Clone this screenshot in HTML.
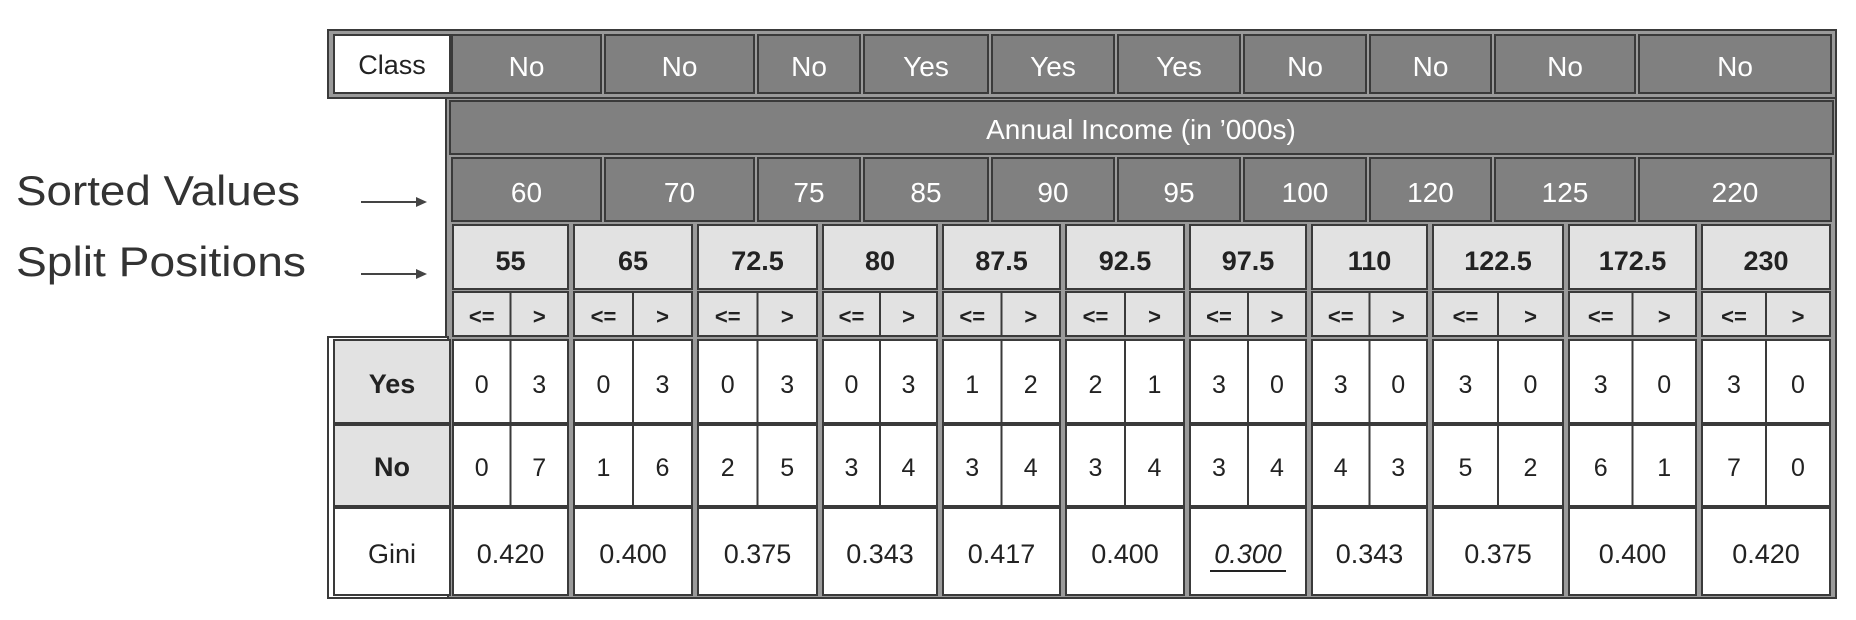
<!DOCTYPE html>
<html><head><meta charset="utf-8"><style>
html,body{margin:0;padding:0;background:#fff;width:1856px;height:620px;overflow:hidden}
svg{display:block;font-family:"Liberation Sans",Arial,sans-serif}
</style></head><body>
<svg id="tbl" width="1856" height="620" viewBox="0 0 1856 620">
<text x="16" y="205" font-size="42" fill="#333" textLength="284" lengthAdjust="spacingAndGlyphs">Sorted Values</text>
<text x="16" y="276" font-size="42" fill="#333" textLength="290" lengthAdjust="spacingAndGlyphs">Split Positions</text>
<g><line x1="361" y1="202" x2="418" y2="202" stroke="#444" stroke-width="2"/><polygon points="416,197 427,202 416,207" fill="#444"/></g>
<g><line x1="361" y1="274" x2="418" y2="274" stroke="#444" stroke-width="2"/><polygon points="416,269 427,274 416,279" fill="#444"/></g>
</svg>
<script>
const classes=["No","No","No","Yes","Yes","Yes","No","No","No","No"];
const values=[60,70,75,85,90,95,100,120,125,220];
const splits=["55","65","72.5","80","87.5","92.5","97.5","110","122.5","172.5","230"];
const yesLe=[0,0,0,0,1,2,3,3,3,3,3];
const yesGt=[3,3,3,3,2,1,0,0,0,0,0];
const noLe=[0,1,2,3,3,3,3,4,5,6,7];
const noGt=[7,6,5,4,4,4,4,3,2,1,0];
const gini=["0.420","0.400","0.375","0.343","0.417","0.400","0.300","0.343","0.375","0.400","0.420"];
// layout (pixel column edges)
const valEdges=[450,603,756,862,990,1116,1242,1368,1493,1637,1833];
const splitEdges=[450,571,695,820,940,1063,1187,1309,1430,1566,1699,1833];
const svg=document.getElementById('tbl');
const NS='http://www.w3.org/2000/svg';
function rect(x,y,w,h,fill,stroke,sw,name){const r=document.createElementNS(NS,'rect');
r.setAttribute('x',x);r.setAttribute('y',y);r.setAttribute('width',w);r.setAttribute('height',h);
r.setAttribute('fill',fill);r.setAttribute('stroke',stroke);r.setAttribute('stroke-width',sw);


svg.appendChild(r);return r;}
function text(x,y,s,size,fill,bold,name){const t=document.createElementNS(NS,'text');
t.setAttribute('x',x);t.setAttribute('y',y);t.setAttribute('font-size',size);t.setAttribute('fill',fill);
t.setAttribute('text-anchor','middle');if(bold)t.setAttribute('font-weight','bold');
t.textContent=s;


svg.appendChild(t);return t;}
const DARK='#808080',LIGHT='#e2e2e2',LINE='#3a3a3a';
rect(328,30,1508,68,'#9a9a9a',LINE,2,'class-row-frame');
rect(446,98,1390,500,'#9a9a9a',LINE,2,'body-frame');
rect(328,337,120,261,'#fff',LINE,2,'row-label-frame');
rect(334,35,116,58,'#fff',LINE,2,'class-header-cell');
text(392,74,'Class',27,'#222',false,'class-header-text');
classes.forEach((c,i)=>{const x0=valEdges[i]+2,x1=valEdges[i+1]-2;
rect(x0,35,x1-x0,58,DARK,LINE,2,'class-cell');
text((x0+x1)/2,76,c,28,'#fff',false,'class-value');});
rect(450,101,1383,53,DARK,LINE,2,'annual-income-header');
text(1141,139,"Annual Income (in \u2019000s)",28,'#fff',false,'annual-income-title');
values.forEach((v,i)=>{const x0=valEdges[i]+2,x1=valEdges[i+1]-2;
rect(x0,158,x1-x0,63,DARK,LINE,2,'sorted-value-cell');
text((x0+x1)/2,202,String(v),28,'#fff',false,'sorted-value');});
rect(334,340,116,83,LIGHT,LINE,2,'yes-row-label');
text(392,393,'Yes',27,'#222',true,'yes-label-text');
rect(334,425,116,81,LIGHT,LINE,2,'no-row-label');
text(392,476,'No',27,'#222',true,'no-label-text');
rect(334,508,116,87,'#fff',LINE,2,'gini-row-label');
text(392,563,'Gini',27,'#222',false,'gini-label-text');
splits.forEach((s,i)=>{const x0=splitEdges[i]+3,x1=splitEdges[i+1]-3,xm=(x0+x1)/2,w=x1-x0;
rect(x0,225,w,64,LIGHT,LINE,2,'split-position-cell');
text(xm,270,s,27,'#222',true,'split-position');
rect(x0,292,w/2,44,LIGHT,LINE,2,'le-cell');rect(xm,292,w/2,44,LIGHT,LINE,2,'gt-cell');
text(x0+w/4,324,'<=',22,'#222',true,'le-sign');text(xm+w/4,324,'>',22,'#222',true,'gt-sign');
rect(x0,340,w/2,83,'#fff',LINE,2,'yes-le-cell');rect(xm,340,w/2,83,'#fff',LINE,2,'yes-gt-cell');
text(x0+w/4,393,String(yesLe[i]),25,'#222',false,'yes-le-count');text(xm+w/4,393,String(yesGt[i]),25,'#222',false,'yes-gt-count');
rect(x0,425,w/2,81,'#fff',LINE,2,'no-le-cell');rect(xm,425,w/2,81,'#fff',LINE,2,'no-gt-cell');
text(x0+w/4,476,String(noLe[i]),25,'#222',false,'no-le-count');text(xm+w/4,476,String(noGt[i]),25,'#222',false,'no-gt-count');
rect(x0,508,w,87,'#fff',LINE,2,'gini-cell');
const g=text(xm,563,gini[i],27,'#222',false,'gini-value');
if(gini[i]==='0.300'){g.setAttribute('font-style','italic');
const u=document.createElementNS(NS,'line');u.setAttribute('x1',xm-38);u.setAttribute('x2',xm+38);u.setAttribute('y1',571);u.setAttribute('y2',571);u.setAttribute('stroke','#222');u.setAttribute('stroke-width',2);


svg.appendChild(u);}
});
</script>
</body></html>
